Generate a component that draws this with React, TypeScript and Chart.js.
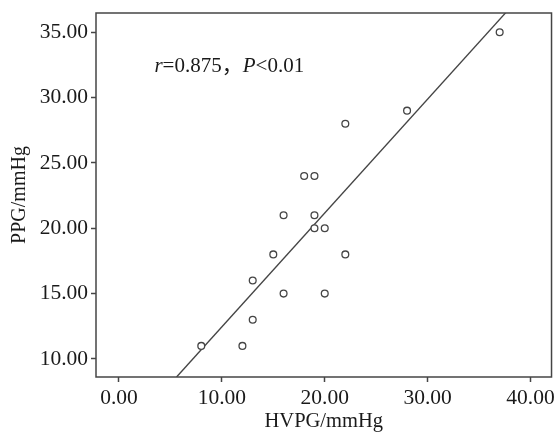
import React, { useEffect, useRef } from "react";
import { Chart, registerables } from "chart.js";

Chart.register(...registerables);

const hvpg = [8, 12, 13, 13, 15, 16, 16, 18, 19, 19, 19, 20, 20, 22, 22, 28, 37];
const ppg = [11, 11, 13, 16, 18, 15, 21, 24, 24, 21, 20, 20, 15, 28, 18, 29, 35];
const fitX = [5.6, 37.6];
const fitY = [8.62, 36.5];
const xTicks = [0, 10, 20, 30, 40];
const yTicks = [10, 15, 20, 25, 30, 35];
const xTitle = "HVPG/mmHg";
const yTitle = "PPG/mmHg";
const annotation = [
  { text: "r", italic: true },
  { text: "=0.875，", italic: false },
  { text: "P", italic: true },
  { text: "<0.01", italic: false },
];

const FAMILY = '"Liberation Serif", "Noto Sans CJK SC", serif';
const DARK = "#454545";

export default function App() {
  const ref = useRef<HTMLCanvasElement | null>(null);
  useEffect(() => {
    if (!ref.current) return;
    const framePlugin = {
      id: "frame",
      afterDatasetsDraw(chart: any) {
        const { ctx, chartArea } = chart;
        ctx.save();
        ctx.strokeStyle = DARK;
        ctx.lineWidth = 1.5;
        ctx.strokeRect(chartArea.left, chartArea.top, chartArea.right - chartArea.left, chartArea.bottom - chartArea.top);
        const xs = chart.scales.x;
        const ys = chart.scales.y;
        let x = xs.getPixelForValue(3.45);
        const y = ys.getPixelForValue(31.98);
        ctx.fillStyle = "#1a1a1a";
        ctx.textBaseline = "alphabetic";
        ctx.textAlign = "left";
        for (const seg of annotation) {
          ctx.font = (seg.italic ? "italic " : "") + "21px " + FAMILY;
          ctx.fillText(seg.text, x, y);
          x += ctx.measureText(seg.text).width;
        }
        ctx.restore();
      },
    };
    const chart = new Chart(ref.current, {
      type: "scatter",
      data: {
        datasets: [
          {
            type: "scatter",
            data: hvpg.map((v, i) => ({ x: v, y: ppg[i] })),
            pointRadius: 3.4,
            pointBorderWidth: 1.3,
            pointBorderColor: DARK,
            pointBackgroundColor: "#ffffff",
            order: 1,
          },
          {
            type: "line",
            data: fitX.map((v, i) => ({ x: v, y: fitY[i] })),
            borderColor: DARK,
            borderWidth: 1.4,
            pointRadius: 0,
            fill: false,
            order: 2,
          } as any,
        ],
      },
      options: {
        responsive: false,
        animation: false,
        layout: { padding: { top: 13, right: 6, left: 0, bottom: 0 } },
        plugins: { legend: { display: false }, tooltip: { enabled: false } },
        scales: {
          x: {
            type: "linear",
            min: -2.23,
            max: 42.04,
            afterBuildTicks: (s: any) => {
              s.ticks = xTicks.map((v) => ({ value: v }));
            },
            afterFit: (s: any) => {
              s.height = 59;
            },
            border: { display: false },
            grid: { drawOnChartArea: false, drawTicks: true, tickLength: 5, tickWidth: 1.5, tickColor: DARK },
            ticks: {
              padding: 3,
              color: "#1a1a1a",
              font: { family: FAMILY, size: 21.5 },
              callback: (v: any) => Number(v).toFixed(2),
            },
            title: {
              display: true,
              text: xTitle,
              color: "#1a1a1a",
              font: { family: FAMILY, size: 20.5 },
              padding: { top: 0, bottom: 2 },
            },
          },
          y: {
            type: "linear",
            min: 8.62,
            max: 36.47,
            afterBuildTicks: (s: any) => {
              s.ticks = yTicks.map((v) => ({ value: v }));
            },
            afterFit: (s: any) => {
              s.width = 96;
              s.paddingTop = 0;
              s.paddingBottom = 0;
            },
            border: { display: false },
            grid: { drawOnChartArea: false, drawTicks: true, tickLength: 5, tickWidth: 1.5, tickColor: DARK },
            ticks: {
              padding: 3,
              color: "#1a1a1a",
              font: { family: FAMILY, size: 21.5, lineHeight: 1 },
              callback: (v: any) => Number(v).toFixed(2),
            },
            title: {
              display: true,
              text: yTitle,
              color: "#1a1a1a",
              font: { family: FAMILY, size: 20 },
              padding: { top: 8, bottom: 0 },
            },
          },
        },
      },
      plugins: [framePlugin],
    } as any);
    return () => chart.destroy();
  }, []);
  return (
    <div style={{ position: "fixed", left: 0, top: 0, width: 558, height: 436, background: "#fff" }}>
      <canvas ref={ref} width={558} height={436} style={{ display: "block" }} />
    </div>
  );
}
